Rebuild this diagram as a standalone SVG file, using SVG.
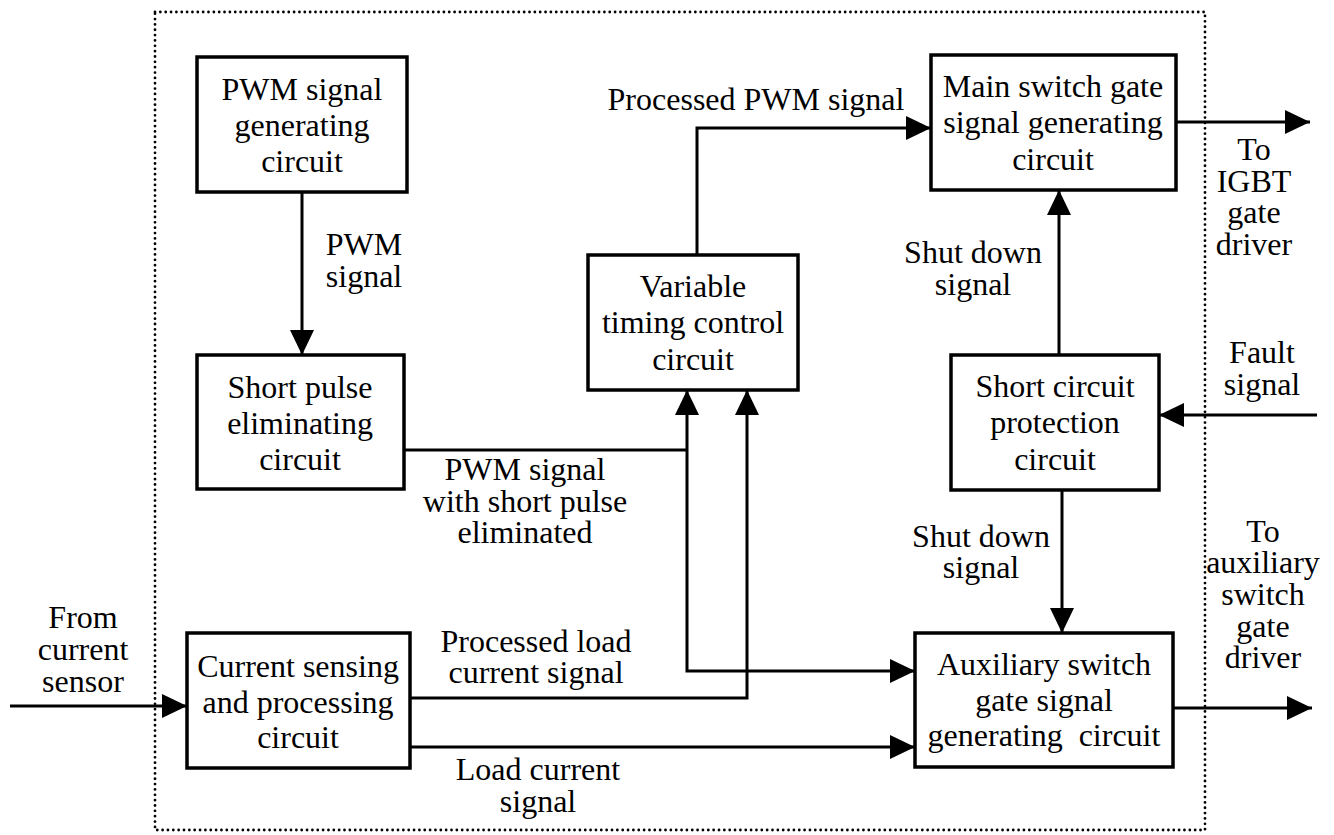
<svg xmlns="http://www.w3.org/2000/svg" width="1334" height="835" viewBox="0 0 1334 835">
<defs>
<marker id="ah" markerUnits="userSpaceOnUse" markerWidth="26" markerHeight="24" refX="25" refY="12" orient="auto-start-reverse" overflow="visible">
<path d="M0,0 L25,12 L0,24 z" fill="#000"/>
</marker>
<style>
text{font-family:"Liberation Serif","Times New Roman",serif;font-size:32px;fill:#000;text-anchor:middle}
.box{fill:#fff;stroke:#000;stroke-width:3.5}
.c{fill:none;stroke:#000;stroke-width:3}
.a{marker-end:url(#ah)}
.border{fill:none;stroke:#000;stroke-width:2.8;stroke-dasharray:0 5.35;stroke-linecap:round}
</style>
</defs>
<rect class="border" x="155" y="12" width="1050" height="818"/>
<g id="connectors">
<path class="c a" d="M302,192 V355"/>
<path class="c" d="M404,450 H687"/>
<path class="c a" d="M687,390 V671 H915" marker-start="url(#ah)"/>
<path class="c a" d="M410,698 H747 V390"/>
<path class="c a" d="M410,747 H915"/>
<path class="c a" d="M697,255 V128 H931"/>
<path class="c a" d="M1059,355 V190"/>
<path class="c a" d="M1062,490 V633"/>
<path class="c a" d="M1317,415 H1159"/>
<path class="c a" d="M1176,122 H1310"/>
<path class="c a" d="M1173,708 H1312"/>
<path class="c a" d="M10,706 H187"/>
</g>
<g id="labels">
<text x="364" y="255">PWM</text>
<text x="364" y="287">signal</text>
<text x="756" y="110">Processed PWM signal</text>
<text x="973" y="263">Shut down</text>
<text x="973" y="295">signal</text>
<text x="981" y="547">Shut down</text>
<text x="981" y="578">signal</text>
<text x="1262" y="363">Fault</text>
<text x="1262" y="395">signal</text>
<text x="1254" y="160">To</text>
<text x="1254" y="192">IGBT</text>
<text x="1254" y="223">gate</text>
<text x="1254" y="255">driver</text>
<text x="1263" y="542">To</text>
<text x="1263" y="573">auxiliary</text>
<text x="1263" y="605">switch</text>
<text x="1263" y="637">gate</text>
<text x="1263" y="668">driver</text>
<text x="83" y="628">From</text>
<text x="83" y="660">current</text>
<text x="83" y="692">sensor</text>
<text x="525" y="480">PWM signal</text>
<text x="525" y="512">with short pulse</text>
<text x="525" y="543">eliminated</text>
<text x="536" y="652">Processed load</text>
<text x="536" y="683">current signal</text>
<text x="538" y="780">Load current</text>
<text x="538" y="812">signal</text>
</g>
<g id="pwm_gen">
<rect class="box" x="197" y="57" width="210" height="135"/>
<text x="302" y="100">PWM signal</text>
<text x="302" y="136">generating</text>
<text x="302" y="172">circuit</text>
</g>
<g id="short_pulse">
<rect class="box" x="197" y="355" width="207" height="134"/>
<text x="300" y="398">Short pulse</text>
<text x="300" y="434">eliminating</text>
<text x="300" y="470">circuit</text>
</g>
<g id="variable_timing">
<rect class="box" x="588" y="255" width="210" height="135"/>
<text x="693" y="297">Variable</text>
<text x="693" y="333">timing control</text>
<text x="693" y="370">circuit</text>
</g>
<g id="main_switch">
<rect class="box" x="931" y="55" width="245" height="135"/>
<text x="1053" y="97">Main switch gate</text>
<text x="1053" y="133">signal generating</text>
<text x="1053" y="170">circuit</text>
</g>
<g id="short_circuit">
<rect class="box" x="951" y="355" width="208" height="135"/>
<text x="1055" y="397">Short circuit</text>
<text x="1055" y="433">protection</text>
<text x="1055" y="470">circuit</text>
</g>
<g id="current_sensing">
<rect class="box" x="187" y="633" width="223" height="135"/>
<text x="298" y="677">Current sensing</text>
<text x="298" y="713">and processing</text>
<text x="298" y="748">circuit</text>
</g>
<g id="aux_switch">
<rect class="box" x="915" y="633" width="258" height="134"/>
<text x="1044" y="675">Auxiliary switch</text>
<text x="1044" y="711">gate signal</text>
<text x="1044" y="746" style="white-space:pre">generating  circuit</text>
</g>
</svg>
